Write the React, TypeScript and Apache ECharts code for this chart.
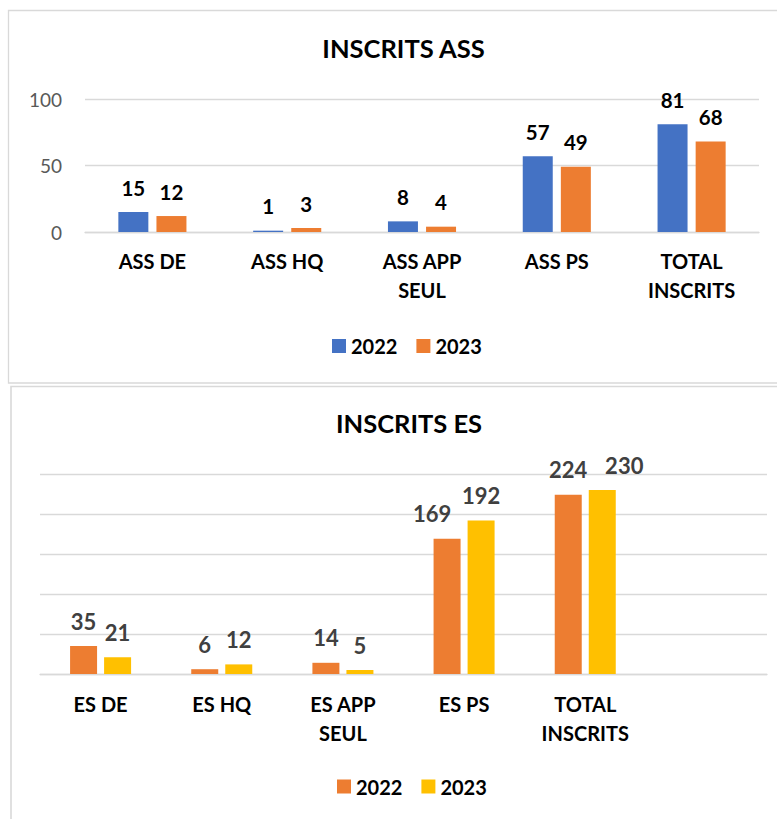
import React, { useEffect, useRef } from "react";
import * as echarts from "echarts";

const assCategories = ["ASS DE", "ASS HQ", "ASS APP\nSEUL", "ASS PS", "TOTAL\nINSCRITS"];
const ass2022 = [15, 1, 8, 57, 81];
const ass2023 = [12, 3, 4, 49, 68];

const esCategories = ["ES DE", "ES HQ", "ES APP\nSEUL", "ES PS", "TOTAL\nINSCRITS", ""];
const es2022 = [35, 6, 14, 169, 224];
const es2023 = [21, 12, 5, 192, 230];

const seriesNames = ["2022", "2023"];
const FONT = "Lato";
const GRID = "#D9D9D9";

function topOption(): any {
  return {
    animation: false,
    textStyle: { fontFamily: FONT },
    graphic: [
      {
        type: "rect",
        shape: { x: 8.5, y: 10.5, width: 820, height: 372.5 },
        style: { fill: "#fff", stroke: GRID, lineWidth: 1.3 },
        z: -10,
      },
    ],
    title: {
      text: "INSCRITS ASS",
      left: 398.5,
      top: 30,
      textAlign: "center",
      textStyle: { fontFamily: FONT, fontSize: 25.5, fontWeight: "bold", color: "#000", lineHeight: 26 },
    },
    legend: {
      left: 327,
      top: 331,
      itemWidth: 14,
      itemHeight: 14,
      itemGap: 19,
      icon: "rect",
      data: seriesNames,
      textStyle: { fontFamily: FONT, fontSize: 20, fontWeight: "bold", color: "#000", lineHeight: 20 },
    },
    grid: { left: 85, right: 18, top: 99, height: 133, containLabel: false },
    xAxis: {
      type: "category",
      data: assCategories,
      axisLine: { show: true, lineStyle: { color: GRID, width: 1.3 } },
      axisTick: { show: false },
      axisLabel: {
        interval: 0,
        margin: 14,
        fontFamily: FONT,
        fontSize: 20,
        fontWeight: "bold",
        color: "#000",
        lineHeight: 29,
      },
    },
    yAxis: {
      type: "value",
      min: 0,
      max: 100,
      interval: 50,
      axisLine: { show: false },
      axisTick: { show: false },
      splitLine: { lineStyle: { color: GRID, width: 1.3 } },
      axisLabel: { margin: 23, fontFamily: FONT, fontSize: 19, color: "#595959" },
    },
    series: [
      {
        name: seriesNames[0],
        type: "bar",
        data: ass2022,
        barWidth: 30,
        barGap: "27%",
        itemStyle: { color: "#4472C4" },
        label: { show: true, position: "top", distance: 14, fontFamily: FONT, fontSize: 20.5, fontWeight: "bold", color: "#000" },
      },
      {
        name: seriesNames[1],
        type: "bar",
        data: ass2023,
        barWidth: 30,
        barGap: "27%",
        itemStyle: { color: "#ED7D31" },
        label: { show: true, position: "top", distance: 14, fontFamily: FONT, fontSize: 20.5, fontWeight: "bold", color: "#000" },
      },
    ],
  };
}

function bottomOption(): any {
  const lbl = { show: true, position: "top", distance: 14, fontFamily: FONT, fontSize: 22, fontWeight: "bold", color: "#404040" };
  const es2022Data = es2022.map((v, i) =>
    i === 3 ? { value: v, label: { offset: [-15, 0] } } : v
  );
  const es2023Data = es2023.map((v, i) =>
    i === es2023.length - 1 ? { value: v, label: { offset: [22, 0] } } : v
  );
  return {
    animation: false,
    textStyle: { fontFamily: FONT },
    graphic: [
      {
        type: "rect",
        shape: { x: 11, y: 1.5, width: 820, height: 500 },
        style: { fill: "#fff", stroke: GRID, lineWidth: 1.6 },
        z: -10,
      },
    ],
    title: {
      text: "INSCRITS ES",
      left: 404,
      top: 20,
      textAlign: "center",
      textStyle: { fontFamily: FONT, fontSize: 25.5, fontWeight: "bold", color: "#000", lineHeight: 26 },
    },
    legend: {
      left: 332,
      top: 386.5,
      itemWidth: 14,
      itemHeight: 14,
      itemGap: 19,
      icon: "rect",
      data: seriesNames,
      textStyle: { fontFamily: FONT, fontSize: 20, fontWeight: "bold", color: "#000", lineHeight: 20 },
    },
    grid: { left: 40, right: 10, top: 89, height: 200, containLabel: false },
    xAxis: {
      type: "category",
      data: esCategories,
      axisLine: { show: true, lineStyle: { color: GRID, width: 1.3 } },
      axisTick: { show: false },
      axisLabel: {
        interval: 0,
        margin: 15,
        fontFamily: FONT,
        fontSize: 20,
        fontWeight: "bold",
        color: "#000",
        lineHeight: 29,
      },
    },
    yAxis: {
      type: "value",
      min: 0,
      max: 250,
      interval: 50,
      axisLine: { show: false },
      axisTick: { show: false },
      splitLine: { lineStyle: { color: GRID, width: 1.3 } },
      axisLabel: { show: false },
    },
    series: [
      {
        name: seriesNames[0],
        type: "bar",
        data: es2022Data,
        barWidth: 27,
        barGap: "26%",
        itemStyle: { color: "#ED7D31" },
        label: lbl,
      },
      {
        name: seriesNames[1],
        type: "bar",
        data: es2023Data,
        barWidth: 27,
        barGap: "26%",
        itemStyle: { color: "#FFC000" },
        label: lbl,
      },
    ],
  };
}

export default function App() {
  const topRef = useRef<HTMLDivElement>(null);
  const botRef = useRef<HTMLDivElement>(null);

  useEffect(() => {
    const c1 = echarts.init(topRef.current!, undefined, { renderer: "svg" });
    c1.setOption(topOption());
    const c2 = echarts.init(botRef.current!, undefined, { renderer: "svg" });
    c2.setOption(bottomOption());
    return () => {
      c1.dispose();
      c2.dispose();
    };
  }, []);

  return (
    <div style={{ position: "absolute", left: 0, top: 0, width: 777, height: 819, background: "#fff", overflow: "hidden" }}>
      <div ref={topRef} style={{ position: "absolute", left: 0, top: 0, width: 777, height: 385 }} />
      <div ref={botRef} style={{ position: "absolute", left: 0, top: 385, width: 777, height: 434 }} />
    </div>
  );
}
